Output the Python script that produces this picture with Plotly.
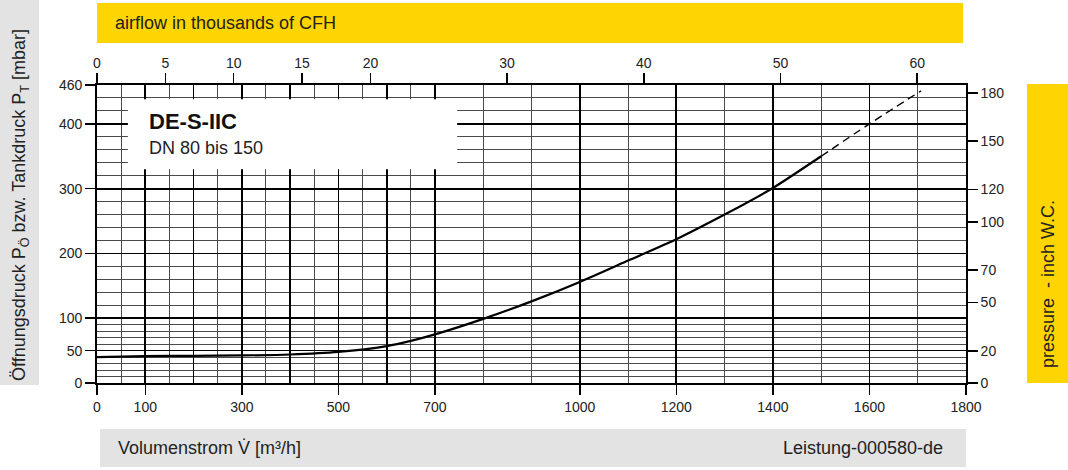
import plotly.graph_objects as go

# ---------------- data ----------------
flow_solid = [0, 100, 200, 300, 400, 500, 600, 650, 700, 800, 900, 1000, 1100, 1200, 1300, 1400, 1500]
press_solid = [40, 41.5, 42, 42.5, 44, 48, 57, 65, 75, 99, 126, 156, 189, 222, 260, 301, 350]
flow_dash = [1500, 1600, 1707]
press_dash = [350, 400, 451]

x_labels = [0, 100, 300, 500, 700, 1000, 1200, 1400, 1600, 1800]
x_grid_major = [0, 100, 200, 300, 400, 500, 600, 700, 1000, 1200, 1400, 1600]
x_grid_minor = [50, 150, 250, 350, 450, 550, 650, 800, 900, 1100, 1300, 1500, 1700]

y_labels = [0, 50, 100, 200, 300, 400, 460]
y_grid_major = [0, 50, 100, 200, 300, 400]
y_grid_minor = [10, 20, 30, 40, 60, 70, 80, 90, 120, 140, 160, 180, 220, 240, 260, 280,
                320, 340, 360, 380, 420, 440]

cfh_labels = [0, 5, 10, 15, 20, 30, 40, 50, 60]
inwc_labels = [0, 20, 50, 70, 100, 120, 150, 180]

X_MAX = 1800
Y_MAX = 460
M3H_TO_KCFH = 0.0353147
MBAR_PER_INWC = 2.4884

# ---------------- layout helpers ----------------
W, H = 1068, 470
L, R, T, B = 97, 102, 85, 87
PW = W - L - R
PH = H - T - B


def px(xp):
    return (xp - L) / PW


def py(yp):
    return (H - B - yp) / PH


FONT = "Liberation Sans, Arial, sans-serif"
TXT = "#222222"
YELLOW = "#FFD500"
GREY = "#E3E3E3"
THIN = "#4a4a4a"

fig = go.Figure()

fig.add_trace(go.Scatter(x=flow_solid, y=press_solid, mode="lines",
                         line=dict(color="black", width=2.2, shape="spline", smoothing=0.6),
                         hoverinfo="skip", showlegend=False))
fig.add_trace(go.Scatter(x=flow_dash, y=press_dash, mode="lines",
                         line=dict(color="black", width=1.4, dash="8px,5px", shape="spline"),
                         hoverinfo="skip", showlegend=False))
# dummy traces to activate overlay axes
fig.add_trace(go.Scatter(x=[None], y=[None], xaxis="x2", yaxis="y", showlegend=False, hoverinfo="skip"))
fig.add_trace(go.Scatter(x=[None], y=[None], xaxis="x", yaxis="y2", showlegend=False, hoverinfo="skip"))
fig.add_trace(go.Scatter(x=[None], y=[None], xaxis="x3", yaxis="y3", showlegend=False, hoverinfo="skip"))

tickfont = dict(family=FONT, size=14, color=TXT)

fig.update_layout(
    width=W, height=H,
    margin=dict(l=L, r=R, t=T, b=B),
    paper_bgcolor="white", plot_bgcolor="white",
    showlegend=False,
    font=dict(family=FONT, color=TXT),
    xaxis=dict(range=[0, X_MAX], tickmode="array", tickvals=x_labels,
               ticks="outside", ticklen=10, tickwidth=1.5, tickcolor="black",
               showline=True, linecolor="black", linewidth=1.8,
               showgrid=False, zeroline=False, tickfont=tickfont,
               minor=dict(tickmode="array", tickvals=x_grid_minor, showgrid=True,
                          gridcolor=THIN, gridwidth=1, ticks="")),
    xaxis2=dict(range=[0, X_MAX * M3H_TO_KCFH], overlaying="x", side="top", anchor="y",
                tickmode="array", tickvals=cfh_labels,
                ticks="outside", ticklen=10, tickwidth=1.5, tickcolor="black",
                showline=True, linecolor="black", linewidth=1.8,
                showgrid=False, zeroline=False, tickfont=tickfont),
    xaxis3=dict(range=[0, X_MAX], overlaying="x", anchor="y3",
                tickmode="array", tickvals=x_grid_major, showticklabels=False, ticks="",
                showgrid=True, gridcolor="black", gridwidth=1.7,
                showline=False, zeroline=False),
    yaxis=dict(range=[0, Y_MAX], tickmode="array", tickvals=y_labels,
               ticks="outside", ticklen=10, tickwidth=1.5, tickcolor="black",
               showline=True, linecolor="black", linewidth=1.8,
               showgrid=False, zeroline=False, tickfont=tickfont,
               minor=dict(tickmode="array", tickvals=y_grid_minor, showgrid=True,
                          gridcolor=THIN, gridwidth=1, ticks="")),
    yaxis2=dict(range=[0, Y_MAX / MBAR_PER_INWC], overlaying="y", side="right", anchor="x",
                tickmode="array", tickvals=inwc_labels,
                ticks="outside", ticklen=10, tickwidth=1.5, tickcolor="black",
                showline=True, linecolor="black", linewidth=1.8,
                showgrid=False, zeroline=False, tickfont=tickfont),
    yaxis3=dict(range=[0, Y_MAX], overlaying="y", anchor="x3",
                tickmode="array", tickvals=y_grid_major, showticklabels=False, ticks="",
                showgrid=True, gridcolor="black", gridwidth=1.7,
                showline=False, zeroline=False),
)

# background bars
bars = [
    (97, 963, 3, 43, YELLOW),      # top
    (1027, 1068, 84, 383, YELLOW), # right
    (0, 39, 0, 385, GREY),         # left
    (100, 966, 429, 467, GREY),    # bottom
]
for x0, x1, y0, y1, c in bars:
    fig.add_shape(type="rect", xref="paper", yref="paper",
                  x0=px(x0), x1=px(x1), y0=py(y1), y1=py(y0),
                  fillcolor=c, line=dict(width=0), layer="below")

# white label box inside the grid
fig.add_shape(type="rect", xref="x", yref="y", x0=64, x1=746, y0=330, y1=438,
              fillcolor="white", line=dict(width=0), layer="between")

fig.add_annotation(x=104, y=403, xref="x", yref="y", text="<b>DE-S-IIC</b>",
                   showarrow=False, xanchor="left", yanchor="middle",
                   font=dict(family=FONT, size=22, color="#111111"))
fig.add_annotation(x=104, y=363, xref="x", yref="y", text="DN 80 bis 150",
                   showarrow=False, xanchor="left", yanchor="middle",
                   font=dict(family=FONT, size=18, color=TXT))

# titles
fig.add_annotation(x=px(113), y=py(23), xref="paper", yref="paper",
                   text="airflow in thousands of CFH", showarrow=False,
                   xanchor="left", yanchor="middle",
                   font=dict(family=FONT, size=18, color=TXT))
fig.add_annotation(x=px(20), y=py(205), xref="paper", yref="paper",
                   text="Öffnungsdruck P<sub>Ö</sub> bzw. Tankdruck P<sub>T</sub> [mbar]",
                   showarrow=False, textangle=-90, xanchor="center", yanchor="middle",
                   font=dict(family=FONT, size=18, color=TXT))
fig.add_annotation(x=px(1048), y=py(284), xref="paper", yref="paper",
                   text="pressure \u00a0- inch W.C.",
                   showarrow=False, textangle=-90, xanchor="center", yanchor="middle",
                   font=dict(family=FONT, size=18, color=TXT))
fig.add_annotation(x=px(116), y=py(448), xref="paper", yref="paper",
                   text="Volumenstrom V\u0307 [m³/h]", showarrow=False,
                   xanchor="left", yanchor="middle",
                   font=dict(family=FONT, size=18, color=TXT))
fig.add_annotation(x=px(945), y=py(448), xref="paper", yref="paper",
                   text="Leistung-000580-de", showarrow=False,
                   xanchor="right", yanchor="middle",
                   font=dict(family=FONT, size=18, color=TXT))

fig.write_html("out.html",
               config={"displayModeBar": False, "staticPlot": True},
               post_script="document.body.style.margin='0';document.body.style.overflow='hidden';")
